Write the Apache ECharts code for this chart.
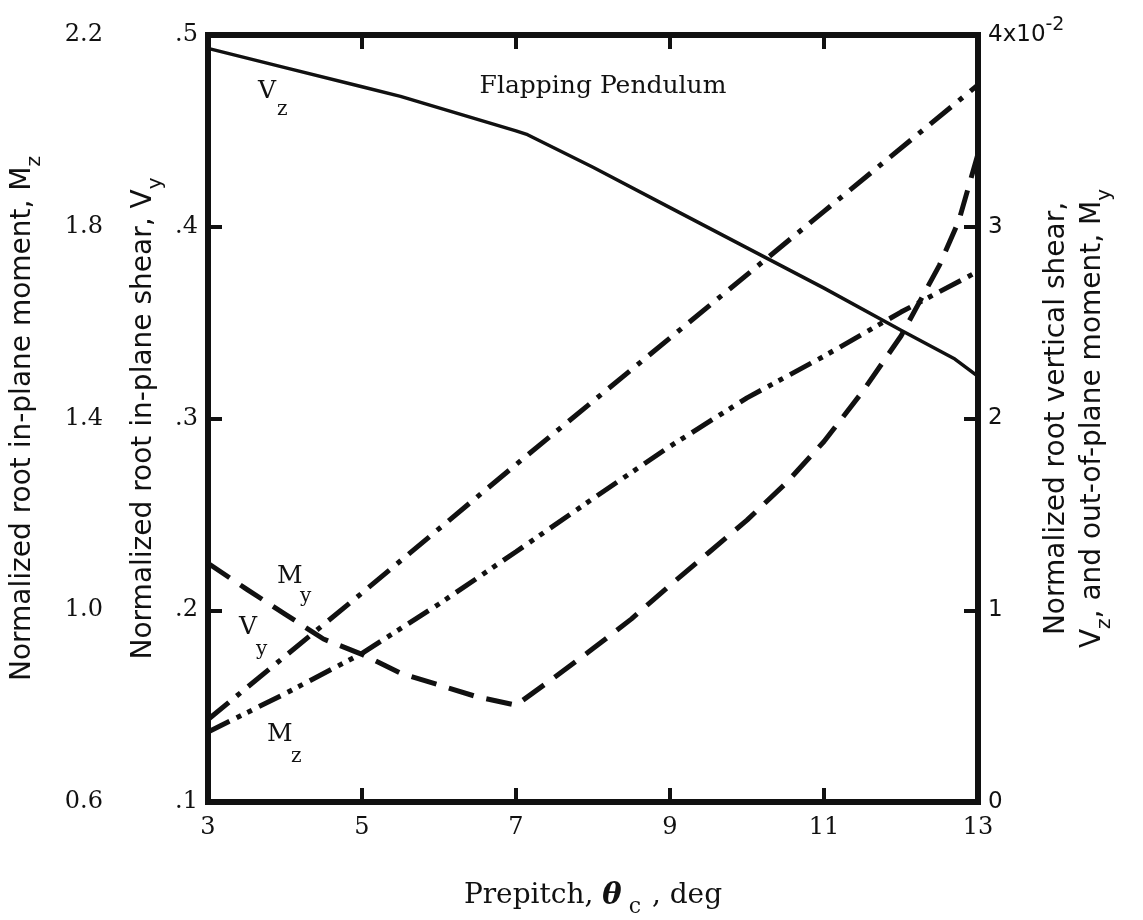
<!DOCTYPE html>
<html>
<head>
<meta charset="utf-8">
<script src="https://cdn.jsdelivr.net/npm/echarts@6/dist/echarts.min.js"></script>
<style>
    html, body { margin: 0; padding: 0; background: #fff; }
    #chart { width: 1143px; height: 920px; }
</style>
</head>
<body>
<div id="chart"></div>
<script>
    // prepitch (deg) and the four curves
    const vzTheta = [3, 4, 5, 5.5, 6, 7, 7.15, 8, 9, 10, 11, 12, 12.7, 13];
    const vzVals = [3.93, 3.83, 3.73, 3.68, 3.62, 3.50, 3.48, 3.31, 3.10, 2.89, 2.68, 2.46, 2.31, 2.22];   // x10^-2, right axis

    const myTheta = [3, 3.5, 4, 4.5, 5, 5.5, 6, 6.5, 7, 7.5, 8, 8.5, 9, 9.5, 10, 10.5, 11, 11.5, 12, 12.5, 12.75, 13];
    const myVals = [1.245, 1.11, 0.98, 0.85, 0.77, 0.672, 0.61, 0.548, 0.505, 0.65, 0.80, 0.955, 1.13, 1.30, 1.47, 1.66, 1.88, 2.14, 2.43, 2.80, 3.03, 3.38];   // x10^-2, right axis

    const vyTheta = [3, 5, 7, 9, 11, 13];
    const vyVals = [0.143, 0.209, 0.276, 0.342, 0.408, 0.474];

    const mzTheta = [3, 4, 5, 6, 7, 8, 9, 10, 11, 12, 13];
    const mzVals = [0.746, 0.826, 0.91, 1.013, 1.122, 1.233, 1.342, 1.443, 1.53, 1.622, 1.707];

    const xLabels = [3, 5, 7, 9, 11, 13];
    const xTicks = [5, 7, 9, 11];
    const vyLabels = [0.1, 0.2, 0.3, 0.4, 0.5];
    const vyTicks = [0.2, 0.3, 0.4];
    const mzLabels = [0.6, 1.0, 1.4, 1.8, 2.2];
    const rightLabels = [0, 1, 2, 3, 4];
    const rightTicks = [1, 2, 3];

    const INK = '#111';
    const SERIF = 'DejaVu Serif';
    const SANS = 'DejaVu Sans';

    function zip(xs, ys) {
        return xs.map(function (x, i) { return [x, ys[i]]; });
    }

    const nameRich = {
        n: { fontFamily: SANS, fontSize: 28, color: INK },
        s: { fontFamily: SANS, fontSize: 20, color: INK, padding: [24, 0, 0, 0] }
    };

    function frameLine() {
        return { show: true, onZero: false, lineStyle: { color: INK, width: 6, cap: 'square' } };
    }
    function inTicks(values) {
        return { show: true, inside: true, length: 14, customValues: values, lineStyle: { color: INK, width: 4 } };
    }

    // label: main letter + subscript as two text pieces
    function curveLabel(main, sub, x, y, sx, sy) {
        return {
            type: 'group',
            children: [
                { type: 'text', style: { x: x, y: y, text: main, font: `25px "${SERIF}"`, fill: INK, verticalAlign: 'middle' } },
                { type: 'text', style: { x: sx, y: sy, text: sub, font: `20px "${SERIF}"`, fill: INK, verticalAlign: 'middle' } }
            ]
        };
    }

    let option = {
        backgroundColor: '#fff',
        animation: false,
        grid: { left: 208, right: 165, top: 35, bottom: 118, containLabel: false, outerBoundsMode: 'none' },
        xAxis: [
            {
                type: 'value', position: 'bottom', min: 3, max: 13,
                axisLine: frameLine(),
                axisTick: inTicks(xTicks),
                axisLabel: { customValues: xLabels, margin: 14, fontFamily: SERIF, fontSize: 24, color: INK },
                splitLine: { show: false },
                name: '{n|Prepitch, }{t|θ}{c| c}{n| , deg}',
                nameLocation: 'middle', nameGap: 72, nameMoveOverlap: false,
                nameTextStyle: {
                    rich: {
                        n: { fontFamily: SERIF, fontSize: 28, color: INK },
                        t: { fontFamily: SERIF, fontSize: 29, color: INK, fontWeight: 'bold', fontStyle: 'italic' },
                        c: { fontFamily: SERIF, fontSize: 22, color: INK, padding: [22, 2, 0, 0] }
                    }
                }
            },
            {
                type: 'value', position: 'top', min: 3, max: 13,
                axisLine: frameLine(),
                axisTick: inTicks(xTicks),
                axisLabel: { show: false },
                splitLine: { show: false }
            }
        ],
        yAxis: [
            {
                type: 'value', position: 'left', min: 0.1, max: 0.5,
                axisLine: frameLine(),
                axisTick: inTicks(vyTicks),
                axisLabel: {
                    customValues: vyLabels, margin: 10, fontFamily: SERIF, fontSize: 24, color: INK,
                    formatter: function (v) { return v.toFixed(1).replace(/^0/, ''); }
                },
                splitLine: { show: false },
                name: '{n|Normalized root in-plane shear, V}{s|y}',
                nameLocation: 'middle', nameRotate: 90, nameGap: 42, nameMoveOverlap: false,
                nameTextStyle: { rich: nameRich }
            },
            {
                type: 'value', position: 'left', offset: 95, min: 0.6, max: 2.2,
                axisLine: { show: false },
                axisTick: { show: false },
                axisLabel: {
                    customValues: mzLabels, margin: 10, fontFamily: SERIF, fontSize: 24, color: INK,
                    formatter: function (v) { return v.toFixed(1); }
                },
                splitLine: { show: false },
                name: '{n|Normalized root in-plane moment, M}{s|z}',
                nameLocation: 'middle', nameRotate: 90, nameGap: 68, nameMoveOverlap: false,
                nameTextStyle: { rich: nameRich }
            },
            {
                type: 'value', position: 'right', min: 0, max: 4,
                axisLine: frameLine(),
                axisTick: inTicks(rightTicks),
                axisLabel: {
                    customValues: rightLabels, margin: 10, fontFamily: SANS, fontSize: 23, color: INK,
                    formatter: function (v) { return v === 4 ? '{a|4x10}{p|-2}' : '{a|' + v + '}'; },
                    rich: {
                        a: { fontFamily: SANS, fontSize: 23, color: INK },
                        p: { fontFamily: SANS, fontSize: 19, color: INK, padding: [0, 0, 20, 0] }
                    }
                },
                splitLine: { show: false },
                name: '{n|Normalized root vertical shear,}\n{n|V}{s|z}{n|, and out-of-plane moment, M}{s|y}',
                nameLocation: 'middle', nameRotate: 90, nameGap: 65, nameMoveOverlap: false,
                nameTextStyle: { rich: nameRich }
            }
        ],
        series: [
            {
                name: 'Vz', type: 'line', xAxisIndex: 0, yAxisIndex: 2, symbol: 'none',
                data: zip(vzTheta, vzVals),
                lineStyle: { color: INK, width: 3.5, type: 'solid', join: 'round' }
            },
            {
                name: 'My', type: 'line', xAxisIndex: 0, yAxisIndex: 2, symbol: 'none',
                data: zip(myTheta, myVals),
                lineStyle: { color: INK, width: 5, type: [26, 13], cap: 'butt', join: 'round' }
            },
            {
                name: 'Vy', type: 'line', xAxisIndex: 0, yAxisIndex: 0, symbol: 'none',
                data: zip(vyTheta, vyVals),
                lineStyle: { color: INK, width: 5, type: [27, 10, 5, 10], cap: 'butt' }
            },
            {
                name: 'Mz', type: 'line', xAxisIndex: 0, yAxisIndex: 1, symbol: 'none',
                data: zip(mzTheta, mzVals),
                lineStyle: { color: INK, width: 5, type: [24, 8, 5, 7, 5, 8], cap: 'butt' }
            }
        ],
        graphic: [
            { type: 'text', style: { x: 603, y: 86, text: 'Flapping Pendulum', font: `25px "${SERIF}"`, fill: INK, align: 'center', verticalAlign: 'middle' } },
            curveLabel('V', 'z', 258, 91, 277, 110),
            curveLabel('M', 'y', 277, 576, 300, 597),
            curveLabel('V', 'y', 239, 627, 256, 650),
            curveLabel('M', 'z', 267, 734, 291, 757)
        ]
    };

    echarts.init(document.getElementById('chart')).setOption(option);
</script>
</body>
</html>
